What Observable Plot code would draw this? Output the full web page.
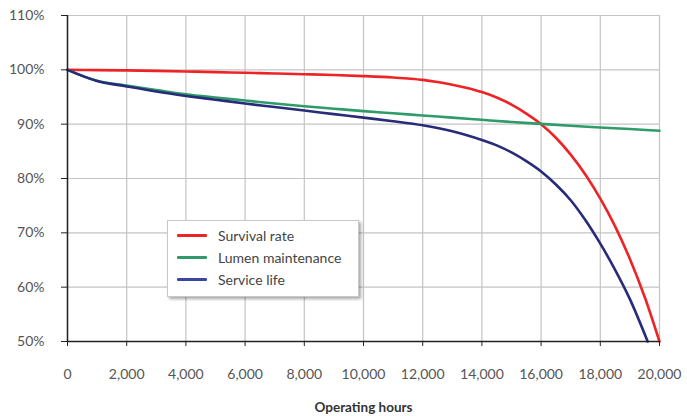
<!DOCTYPE html>
<html>
<head>
<meta charset="utf-8">
<script src="https://cdn.jsdelivr.net/npm/d3@7"></script>
<script src="https://cdn.jsdelivr.net/npm/@observablehq/plot@0.6"></script>
<style>
  body { margin: 0; background: #fff; font-family: Lato, "Noto Sans", sans-serif; }
  #wrap { position: relative; width: 687px; height: 416px; }
  #legend {
    position: absolute; left: 167px; top: 220px; width: 192px; height: 77px;
    background: #fff; border: 1px solid #c8c8c8; box-shadow: 2px 2px 3px rgba(0,0,0,0.35);
    box-sizing: border-box; font-size: 14px; color: #444;
  }
  .item { position: absolute; left: 9px; height: 16px; display: flex; align-items: center; }
  .sw { width: 30px; height: 3px; margin-right: 11px; border-radius: 1px; }
</style>
</head>
<body>
<div id="wrap">
  <div id="chart"></div>
  <div id="legend"></div>
</div>
<script>
const survivalHours = [0,1000,2000,3000,4000,5000,6000,7000,8000,9000,10000,11000,11500,12000,12500,13000,13500,14000,14500,15000,15500,16000,16500,17000,17500,18000,18500,19000,19500,20000];
const survivalRate = [100,99.95,99.9,99.8,99.7,99.58,99.45,99.33,99.2,99.05,98.85,98.6,98.4,98.15,97.75,97.25,96.65,95.9,94.9,93.6,91.95,90.0,87.5,84.4,80.7,76.3,71.2,65.2,58.2,50.0];
const lumenHours = [0,1000,2000,3000,4000,5000,6000,7000,8000,9000,10000,11000,12000,13000,14000,15000,16000,17000,18000,19000,20000];
const lumenMaintenance = [100,98.0,97.1,96.3,95.5,94.9,94.35,93.8,93.3,92.85,92.4,92.0,91.6,91.2,90.8,90.4,90.05,89.7,89.4,89.1,88.8];
const serviceHours = [0,1000,2000,3000,4000,5000,6000,7000,8000,9000,10000,11000,12000,13000,14000,14500,15000,15500,16000,16500,17000,17500,18000,18500,19000,19600];
const serviceLife = [100,97.95,96.95,96.0,95.2,94.5,93.8,93.15,92.5,91.85,91.2,90.55,89.8,88.7,87.1,86.1,84.8,83.2,81.3,78.9,76.0,72.3,68.0,63.2,57.8,50.0];
const seriesNames = ["Survival rate","Lumen maintenance","Service life"];
const seriesColors = ["#ee2326","#2f9b6b","#272b7a"];
const xTicks = [0,2000,4000,6000,8000,10000,12000,14000,16000,18000,20000];
const yTicks = [50,60,70,80,90,100,110];

const rows = [];
survivalHours.forEach((h,i) => rows.push({series: seriesNames[0], h, v: survivalRate[i]}));
lumenHours.forEach((h,i) => rows.push({series: seriesNames[1], h, v: lumenMaintenance[i]}));
serviceHours.forEach((h,i) => rows.push({series: seriesNames[2], h, v: serviceLife[i]}));

const chart = Plot.plot({
  width: 687, height: 416,
  marginTop: 15, marginLeft: 67, marginRight: 28, marginBottom: 75,
  style: {fontFamily: "Lato, 'Noto Sans', sans-serif", fontSize: "14px", color: "#555", background: "#fff"},
  x: {domain: [0,20000]},
  y: {domain: [50,110]},
  color: {domain: seriesNames, range: seriesColors},
  marks: [
    Plot.gridX(xTicks, {stroke: "#c4c4c4", strokeOpacity: 1, strokeWidth: 1.2}),
    Plot.gridY(yTicks, {stroke: "#c4c4c4", strokeOpacity: 1, strokeWidth: 1.2}),
    Plot.line(rows, {x: "h", y: "v", z: "series", stroke: "series", strokeWidth: 2.6, curve: "catmull-rom"}),
    Plot.ruleX([0], {stroke: "#222", strokeWidth: 1.5}),
    Plot.ruleY([50], {stroke: "#222", strokeWidth: 1.5}),
    Plot.axisY(yTicks, {tickFormat: d => d + "%", tickSize: 6, tickPadding: 17, stroke: "#222", label: null, fill: "#555"}),
    Plot.axisX(xTicks, {tickFormat: d3.format(","), tickSize: 5, tickPadding: 23, stroke: "#222", fill: "#555",
      label: "Operating hours", labelAnchor: "center", labelArrow: "none", labelOffset: 70})
  ]
});
document.getElementById("chart").appendChild(chart);
d3.select(chart).selectAll('g[aria-label="x-axis label"] text').style("font-weight", "bold").style("fill", "#333").style("font-size", "13.5px");

const legend = document.getElementById("legend");
seriesNames.forEach((n,i) => {
  const d = document.createElement("div");
  d.className = "item";
  d.style.top = (6 + i*22) + "px";
  d.innerHTML = `<span class="sw" style="background:${i===2 ? "#3a47a0" : seriesColors[i]}"></span><span>${n}</span>`;
  legend.appendChild(d);
});
</script>
</body>
</html>
